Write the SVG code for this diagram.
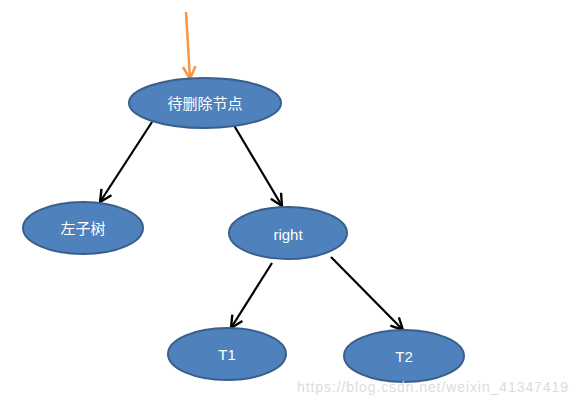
<svg xmlns="http://www.w3.org/2000/svg" width="578" height="406" viewBox="0 0 578 406">
<style>
.node ellipse{fill:#4f81bd;stroke:#3a5f8c;stroke-width:2}
.node text{fill:#fff;font-family:"Liberation Sans","Noto Sans CJK SC",sans-serif;font-size:15px;text-anchor:middle;dominant-baseline:central}
.edge{stroke:#000;stroke-width:2.2;fill:none;marker-end:url(#ah)}
.wm{fill:#dcdcdc;font-family:"Liberation Sans",sans-serif;font-size:14px}
</style>
<defs>
<marker id="ah" viewBox="0 0 12 12" refX="11" refY="6" markerWidth="6.5" markerHeight="6.5" markerUnits="strokeWidth" orient="auto">
<path d="M1,1 L11,6 L1,11" fill="none" stroke="#000" stroke-width="2"/>
</marker>
<marker id="ah2" viewBox="0 0 12 12" refX="11" refY="6" markerWidth="6" markerHeight="6" markerUnits="strokeWidth" orient="auto">
<path d="M1,1 L11,6 L1,11" fill="none" stroke="#f79646" stroke-width="2"/>
</marker>
</defs>
<g id="connectors">
<line x1="186" y1="12" x2="190" y2="79" stroke="#f79646" stroke-width="2.5" marker-end="url(#ah2)"/>
<line class="edge" x1="152" y1="122" x2="100" y2="202"/>
<line class="edge" x1="232" y1="122" x2="282" y2="206"/>
<line class="edge" x1="272" y1="263" x2="231" y2="328"/>
<line class="edge" x1="331" y1="257" x2="403" y2="330"/>
</g>
<g id="n_root" class="node"><ellipse cx="205" cy="103" rx="76" ry="25"/><text x="205" y="103">待删除节点</text></g>
<g id="n_left" class="node"><ellipse cx="83" cy="228" rx="60" ry="26"/><text x="83" y="228">左子树</text></g>
<g id="n_right" class="node"><ellipse cx="288" cy="233" rx="59" ry="26"/><text x="288" y="234">right</text></g>
<g id="n_t1" class="node"><ellipse cx="227" cy="354" rx="59" ry="26"/><text x="227" y="354">T1</text></g>
<g id="n_t2" class="node"><ellipse cx="404" cy="356" rx="60" ry="26"/><text x="404" y="356">T2</text></g>
<text class="wm" x="297" y="392" textLength="271">https://blog.csdn.net/weixin_41347419</text>
</svg>
